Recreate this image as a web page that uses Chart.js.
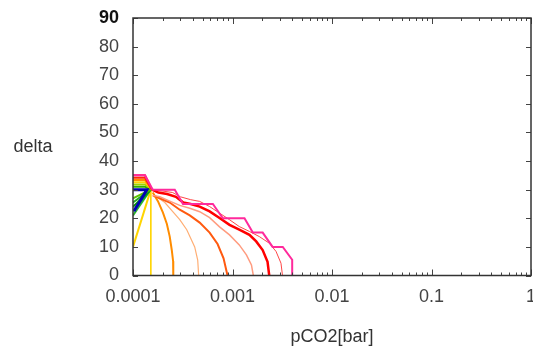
<!DOCTYPE html>
<html>
<head>
<meta charset="utf-8">
<script src="https://cdn.jsdelivr.net/npm/chart.js@4/dist/chart.umd.min.js"></script>
<style>
html,body{margin:0;padding:0;background:#fff;}
#wrap{width:533px;height:347px;}
</style>
</head>
<body>
<div id="wrap"><canvas id="c" width="533" height="347"></canvas></div>
<script>
// ---- axis ticks ----
const xTickValues = [0.0001, 0.001, 0.01, 0.1, 1];
const xTickLabels = ['0.0001', '0.001', '0.01', '0.1', '1'];
const yTickValues = [0, 10, 20, 30, 40, 50, 60, 70, 80, 90];

// ---- series (pCO2 [bar], delta) ----
const pinkX = [0.0001, 0.000132, 0.000158, 0.000263, 0.000318, 0.000635, 0.0008, 0.00132, 0.0016, 0.00201, 0.00253, 0.0032, 0.00398, 0.00398];
const pinkY = [35, 35, 30, 30, 25, 25, 20, 20, 15, 15, 10, 10, 5.5, 0];

const redX = [0.000155, 0.00018, 0.00022, 0.00027, 0.00032, 0.00038, 0.000468, 0.000589, 0.000741, 0.000933, 0.00117, 0.00148, 0.00173, 0.00201, 0.00225, 0.00234];
const redY = [30, 29, 28.5, 27.5, 25.5, 25, 24.1, 22.4, 20.1, 17.7, 16.0, 14.2, 11.9, 8.9, 4.8, 0];

const lightRedX = [0.000155, 0.0002, 0.00025, 0.0003, 0.00038, 0.000468, 0.000589, 0.000741, 0.000933, 0.00117, 0.00148, 0.00186, 0.00234, 0.00274, 0.00307, 0.00318];
const lightRedY = [30, 29.5, 29, 27.5, 26.5, 25.9, 24.1, 21.8, 19.5, 17.1, 15.4, 13.6, 11.3, 8.4, 4.3, 0];

const salmonX = [0.000158, 0.000186, 0.000234, 0.000295, 0.000372, 0.000468, 0.000589, 0.000741, 0.000933, 0.00117, 0.00138, 0.00155, 0.00162];
const salmonY = [28, 27.5, 26, 24.5, 23.5, 22.3, 20.2, 17, 14.2, 10.7, 7.2, 3.7, 0];

const orangeRedX = [0.000158, 0.000186, 0.000234, 0.000295, 0.000372, 0.000468, 0.000589, 0.000708, 0.000813, 0.000891];
const orangeRedY = [28, 27, 25.5, 23, 21, 18.5, 15, 11, 6, 0];

const lightOrangeX = [0.000166, 0.000209, 0.000251, 0.000295, 0.000347, 0.000417, 0.000447, 0.000457];
const lightOrangeY = [28, 25.5, 22.3, 19.5, 16, 10, 5.4, 0];

const orangeX = [0.000158, 0.000178, 0.0002, 0.000219, 0.000234, 0.000245, 0.000253, 0.000254];
const orangeY = [29, 26, 22, 18, 13.6, 9, 5, 0];

const yellowDiagX = [0.0001, 0.000151];
const yellowDiagY = [10, 30];
const yellowVertX = [0.000151, 0.000151];
const yellowVertY = [30, 0];

const blueX = [0.0001, 0.000138, 0.000102];
const blueY = [30, 30, 22.5];

// upper rainbow band: start deltas at 0.0001, converge at (0.000155, 30)
const bandStartY = [35, 34.2, 33.4, 32.6, 31.8, 31.0];
const bandX = [0.0001, 0.000132, 0.000155];
// lower green fan: start deltas at 0.0001, rise to (0.00015, 30)
const fanStartY = [27, 25.5, 24, 22.5, 21];
const fanX = [0.0001, 0.00015];

function pts(xs, ys) { return xs.map((x, i) => ({x: x, y: ys[i]})); }

const bandColors = ['#ff1a4a', '#ff2a00', '#ff8a00', '#ffd200', '#9ad400', '#2fb000'];
const fanColors = ['#5cc400', '#22a822', '#009400', '#00a83c', '#2cb42c'];

const datasets = [];
function add(data, color, width) {
  datasets.push({data: data, borderColor: color, backgroundColor: color, borderWidth: width,
    showLine: true, pointRadius: 0, pointHoverRadius: 0, fill: false, tension: 0});
}
add(pts(pinkX, pinkY), '#ff2a9c', 2);
add(pts(redX, redY), '#ff0000', 2.5);
add(pts(lightRedX, lightRedY), '#ff4646', 1);
add(pts(salmonX, salmonY), '#ff9c80', 1.5);
add(pts(orangeRedX, orangeRedY), '#ff5a10', 2);
add(pts(lightOrangeX, lightOrangeY), '#ffae74', 1.2);
add(pts(orangeX, orangeY), '#ff8c00', 2);
add(pts(blueX, blueY), '#0000b4', 3);
bandStartY.forEach((v, i) => add(pts(bandX, [v, v, 30]), bandColors[i], 2));
fanStartY.forEach((v, i) => add(pts(fanX, [v, 30]), fanColors[i], 2));
add(pts(yellowDiagX, yellowDiagY), '#ffd400', 2);
add(pts(yellowVertX, yellowVertY), '#ffd400', 1);

const FONT = '"Liberation Sans", Arial, sans-serif';

const frame = {
  id: 'frame',
  afterDraw(chart) {
    const ctx = chart.ctx, a = chart.chartArea;
    const xs = chart.scales.x, ys = chart.scales.y;
    ctx.save();
    ctx.strokeStyle = '#444';
    ctx.lineWidth = 1;
    // ticks
    ctx.beginPath();
    yTickValues.forEach(v => {
      const py = Math.round(ys.getPixelForValue(v)) + 0.5;
      ctx.moveTo(a.left, py); ctx.lineTo(a.left + 5, py);
      ctx.moveTo(a.right, py); ctx.lineTo(a.right - 5, py);
    });
    for (let d = 0; d < xTickValues.length; d++) {
      const base = xTickValues[d];
      const px = Math.round(xs.getPixelForValue(base)) + 0.5;
      ctx.moveTo(px, a.bottom); ctx.lineTo(px, a.bottom - 6);
      ctx.moveTo(px, a.top); ctx.lineTo(px, a.top + 6);
      if (d < xTickValues.length - 1) {
        for (let m = 2; m <= 9; m++) {
          const mx = Math.round(xs.getPixelForValue(base * m)) + 0.5;
          ctx.moveTo(mx, a.bottom); ctx.lineTo(mx, a.bottom - 3);
          ctx.moveTo(mx, a.top); ctx.lineTo(mx, a.top + 3);
        }
      }
    }
    ctx.stroke();
    // border
    ctx.lineWidth = 1.5;
    ctx.strokeStyle = '#333';
    ctx.strokeRect(a.left, a.top, a.right - a.left, a.bottom - a.top);
    // axis titles
    ctx.fillStyle = '#333';
    ctx.font = '18px ' + FONT;
    ctx.textAlign = 'center';
    ctx.textBaseline = 'middle';
    ctx.fillText('delta', 33, 147);
    ctx.fillText('pCO2[bar]', (a.left + a.right) / 2, 337);
    ctx.restore();
  }
};

new Chart(document.getElementById('c'), {
  type: 'scatter',
  data: {datasets: datasets},
  options: {
    responsive: false,
    animation: false,
    events: [],
    layout: {padding: {left: 0, right: 2, top: 18, bottom: 0}},
    plugins: {legend: {display: false}, tooltip: {enabled: false}},
    scales: {
      x: {
        type: 'logarithmic', min: 0.0001, max: 1,
        grid: {display: false, drawTicks: false},
        border: {display: false},
        afterBuildTicks(scale) { scale.ticks = xTickValues.map(v => ({value: v})); },
        afterFit(scale) { scale.height = 71.5; scale.paddingLeft = 0; scale.paddingRight = 0; },
        ticks: {
          autoSkip: false, maxRotation: 0, minRotation: 0, padding: 11,
          color: '#444',
          font: {family: FONT, size: 18},
          callback: (v) => { const i = xTickValues.indexOf(v); return i >= 0 ? xTickLabels[i] : ''; }
        }
      },
      y: {
        type: 'linear', min: 0, max: 90,
        grid: {display: false, drawTicks: false},
        border: {display: false},
        afterFit(scale) { scale.width = 133; scale.paddingTop = 0; scale.paddingBottom = 0; },
        ticks: {
          stepSize: 10, padding: 14, color: (c) => c.tick && c.tick.value === 90 ? '#111' : '#444',
          font: (c) => ({family: FONT, size: 18,
            weight: c.tick && c.tick.value === 90 ? 'bold' : 'normal'})
        }
      }
    }
  },
  plugins: [frame]
});
</script>
</body>
</html>
